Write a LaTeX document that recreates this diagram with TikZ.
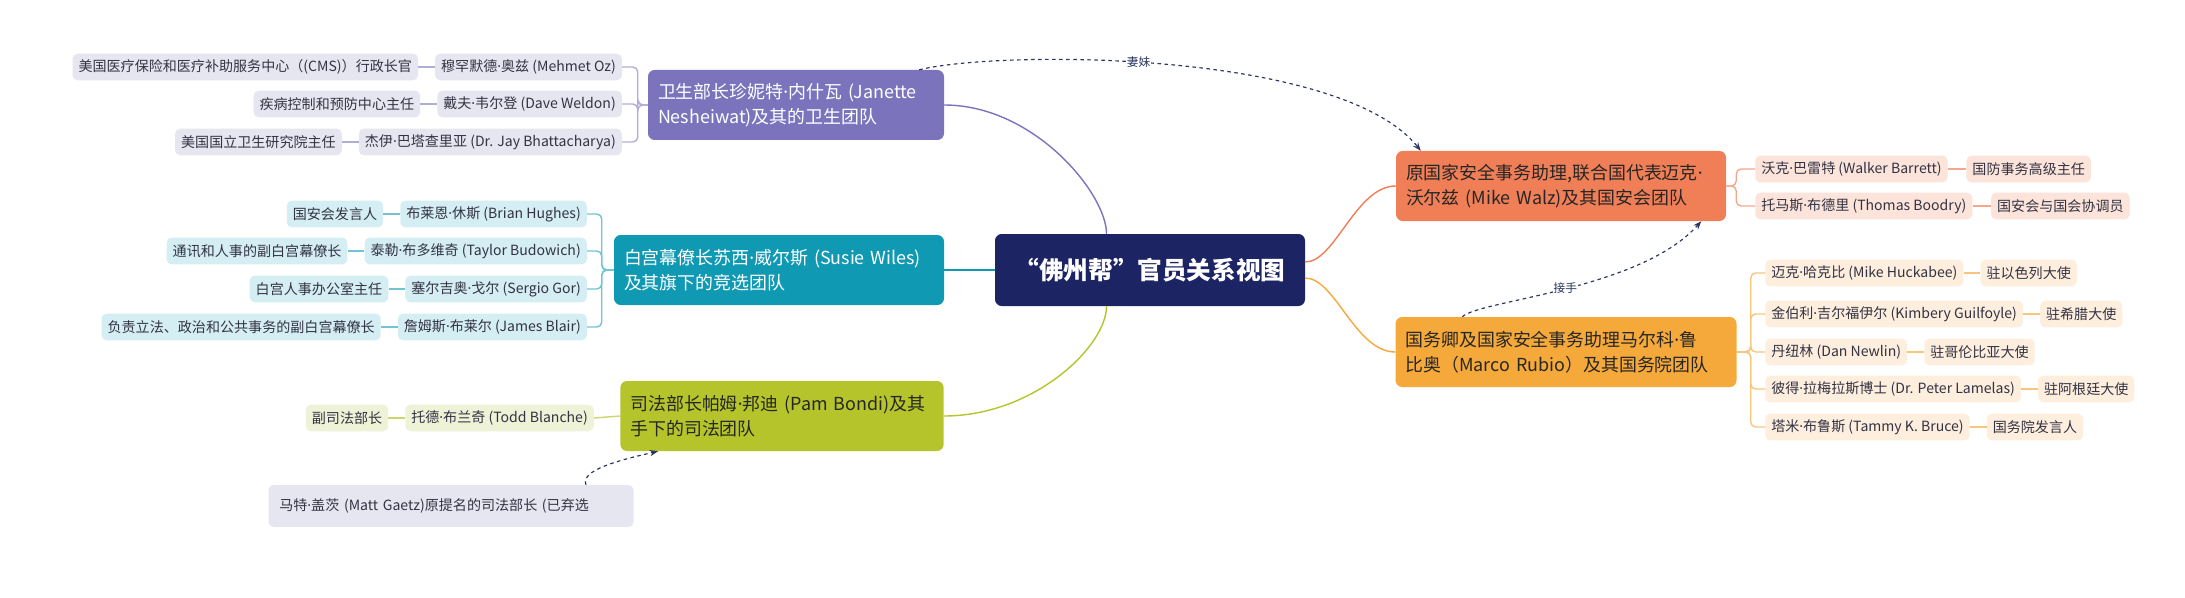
\documentclass[tikz,border=0pt]{standalone}
\usepackage{fontspec}
\setmainfont{Noto Sans CJK SC}
\newfontfamily\latinfont{Noto Sans}
\newcommand\md{{\latinfont ·}}
\usepackage{tikz}
\usetikzlibrary{arrows.meta,positioning,calc}
\definecolor{rootblue}{HTML}{1C2463}
\definecolor{healthpurple}{HTML}{7B74BD}
\definecolor{healthleaf}{HTML}{E6E6F0}
\definecolor{whteal}{HTML}{1099B3}
\definecolor{whleaf}{HTML}{D4EEF3}
\definecolor{justlime}{HTML}{B5C42A}
\definecolor{justleaf}{HTML}{EEF2D6}
\definecolor{nsared}{HTML}{F07F57}
\definecolor{nsaleaf}{HTML}{FCE4DA}
\definecolor{stateorange}{HTML}{F5A93A}
\definecolor{stateleaf}{HTML}{FDEEDD}
\definecolor{arrowblue}{HTML}{2B3560}
\definecolor{leaftext}{HTML}{333344}

\begin{document}
\begin{tikzpicture}[x=0.3mm,y=-0.3mm,
    mainbox/.style={rounded corners=2mm, text=white, font=\fontsize{15.3}{21}\selectfont,
        align=left, inner sep=3mm, minimum height=21mm, anchor=center},
    leaf/.style={rounded corners=1.5mm, text=leaftext, font=\fontsize{12}{14}\selectfont,
        inner xsep=1.8mm, minimum height=8mm},
    link/.style={line width=1.2pt},
    rel/.style={dashed, line width=1pt, arrowblue, -{Stealth[length=2.5mm]}},
    rellabel/.style={font=\fontsize{10}{12}\selectfont, text=arrowblue, fill=white, inner sep=1pt}]
    \useasboundingbox (0,0) rectangle (2185,598);

    % Root
    \node[fill=rootblue, rounded corners=2mm, text=white, font=\fontsize{21}{26}\selectfont\bfseries,
        minimum width=93mm, minimum height=21.6mm] (root) at (1150,270) {“佛州帮”官员关系视图};

    % Health team
    \node[mainbox, fill=healthpurple, text width=82.8mm] (health) at (796,105)
        {卫生部长珍妮特\md 内什瓦 (Janette\\Nesheiwat)及其的卫生团队};
    \node[leaf, fill=healthleaf, anchor=east] (oz) at (622,67) {穆罕默德\md 奥兹 (Mehmet Oz)};
    \node[leaf, fill=healthleaf, left=5mm of oz] (cms) {美国医疗保险和医疗补助服务中心（(CMS)）行政长官};
    \node[leaf, fill=healthleaf, anchor=east] (weldon) at (622,104) {戴夫\md 韦尔登 (Dave Weldon)};
    \node[leaf, fill=healthleaf, left=5mm of weldon] (cdc) {疾病控制和预防中心主任};
    \node[leaf, fill=healthleaf, anchor=east] (jay) at (622,142) {杰伊\md 巴塔查里亚 (Dr. Jay Bhattacharya)};
    \node[leaf, fill=healthleaf, left=5mm of jay] (nih) {美国国立卫生研究院主任};

    % White House team
    \node[mainbox, fill=whteal, text width=93mm] (wh) at (779,270)
        {白宫幕僚长苏西\md 威尔斯 (Susie Wiles)\\及其旗下的竞选团队};
    \node[leaf, fill=whleaf, anchor=east] (hughes) at (587,214) {布莱恩\md 休斯 (Brian Hughes)};
    \node[leaf, fill=whleaf, left=5mm of hughes] (nscspk) {国安会发言人};
    \node[leaf, fill=whleaf, anchor=east] (budowich) at (587,251) {泰勒\md 布多维奇 (Taylor Budowich)};
    \node[leaf, fill=whleaf, left=5mm of budowich] (comms) {通讯和人事的副白宫幕僚长};
    \node[leaf, fill=whleaf, anchor=east] (gor) at (587,289) {塞尔吉奥\md 戈尔 (Sergio Gor)};
    \node[leaf, fill=whleaf, left=5mm of gor] (ppo) {白宫人事办公室主任};
    \node[leaf, fill=whleaf, anchor=east] (blair) at (587,327) {詹姆斯\md 布莱尔 (James Blair)};
    \node[leaf, fill=whleaf, left=5mm of blair] (leg) {负责立法、政治和公共事务的副白宫幕僚长};

    % Justice team
    \node[mainbox, fill=justlime, text=black!85, text width=91mm] (justice) at (782,416)
        {司法部长帕姆\md 邦迪 (Pam Bondi)及其\\手下的司法团队};
    \node[leaf, fill=justleaf, anchor=east] (blanche) at (594,418) {托德\md 布兰奇 (Todd Blanche)};
    \node[leaf, fill=justleaf, left=5mm of blanche] (deputy) {副司法部长};
    \node[leaf, fill=healthleaf, minimum width=109.5mm, minimum height=12.6mm, text width=103mm,
        align=left] (gaetz) at (451,506) {马特\md 盖茨 (Matt Gaetz)原提名的司法部长 (已弃选};

    % NSA team
    \node[mainbox, fill=nsared, text=black!85, text width=93mm] (nsa) at (1561,186)
        {原国家安全事务助理,联合国代表迈克\md\\沃尔兹 (Mike Walz)及其国安会团队};
    \node[leaf, fill=nsaleaf, anchor=west] (barrett) at (1755,169) {沃克\md 巴雷特 (Walker Barrett)};
    \node[leaf, fill=nsaleaf, right=5.5mm of barrett] (defense) {国防事务高级主任};
    \node[leaf, fill=nsaleaf, anchor=west] (boodry) at (1755,206) {托马斯\md 布德里 (Thomas Boodry)};
    \node[leaf, fill=nsaleaf, right=5.5mm of boodry] (liaison) {国安会与国会协调员};

    % State team
    \node[mainbox, fill=stateorange, text=black!85, text width=96.3mm] (state) at (1566,352)
        {国务卿及国家安全事务助理马尔科\md 鲁\\比奥（Marco Rubio）及其国务院团队};
    \node[leaf, fill=stateleaf, anchor=west] (huckabee) at (1765,273) {迈克\md 哈克比 (Mike Huckabee)};
    \node[leaf, fill=stateleaf, right=5mm of huckabee] (israel) {驻以色列大使};
    \node[leaf, fill=stateleaf, anchor=west] (guilfoyle) at (1765,314) {金伯利\md 吉尔福伊尔 (Kimbery Guilfoyle)};
    \node[leaf, fill=stateleaf, right=5mm of guilfoyle] (greece) {驻希腊大使};
    \node[leaf, fill=stateleaf, anchor=west] (newlin) at (1765,352) {丹纽林 (Dan Newlin)};
    \node[leaf, fill=stateleaf, right=5mm of newlin] (colombia) {驻哥伦比亚大使};
    \node[leaf, fill=stateleaf, anchor=west] (lamelas) at (1765,389) {彼得\md 拉梅拉斯博士 (Dr. Peter Lamelas)};
    \node[leaf, fill=stateleaf, right=5mm of lamelas] (argentina) {驻阿根廷大使};
    \node[leaf, fill=stateleaf, anchor=west] (bruce) at (1765,427) {塔米\md 布鲁斯 (Tammy K. Bruce)};
    \node[leaf, fill=stateleaf, right=5mm of bruce] (spokes) {国务院发言人};

    % Root links
    \draw[link, healthpurple] (health.east) .. controls +(90,0) and +(0,-40) .. ($(root.north west)!0.36!(root.north east)$);
    \draw[link, whteal] (wh.east) -- (root.west);
    \draw[link, justlime] (justice.east) .. controls +(90,0) and +(0,40) .. ($(root.south west)!0.36!(root.south east)$);
    \draw[link, nsared] ($(root.east)+(0,-8)$) .. controls +(30,0) and +(-40,0) .. (nsa.west);
    \draw[link, stateorange] ($(root.east)+(0,8)$) .. controls +(30,0) and +(-40,0) .. (state.west);

    % Branch brackets
    \foreach \a/\b in {oz/cms, weldon/cdc, jay/nih}{
        \draw[link, healthleaf!50!healthpurple, rounded corners=1.5mm] (health.west) -- ++(-10,0) |- (\a.east);
        \draw[link, healthleaf!50!healthpurple] (\a.west) -- (\b.east);
    }
    \foreach \a/\b in {hughes/nscspk, budowich/comms, gor/ppo, blair/leg}{
        \draw[link, whleaf!50!whteal, rounded corners=1.5mm] (wh.west) -- ++(-12,0) |- (\a.east);
        \draw[link, whleaf!50!whteal] (\a.west) -- (\b.east);
    }
    \draw[link, justleaf!40!justlime] (justice.west) -- (blanche.east);
    \draw[link, justleaf!40!justlime] (blanche.west) -- (deputy.east);
    \foreach \a/\b in {barrett/defense, boodry/liaison}{
        \draw[link, nsaleaf!40!nsared, rounded corners=1.5mm] (nsa.east) -- ++(10,0) |- (\a.west);
        \draw[link, nsaleaf!40!nsared] (\a.east) -- (\b.west);
    }
    \foreach \a/\b in {huckabee/israel, guilfoyle/greece, newlin/colombia, lamelas/argentina, bruce/spokes}{
        \draw[link, stateleaf!40!stateorange, rounded corners=1.5mm] (state.east) -- ++(14,0) |- (\a.west);
        \draw[link, stateleaf!40!stateorange] (\a.east) -- (\b.west);
    }

    % Relations
    \draw[rel] ($(health.north east)+(-25,0)$) .. controls (1000,50) and (1340,50) .. node[rellabel, pos=0.45] {妻妹} ($(nsa.north west)+(25,0)$);
    \draw[rel] ($(state.north west)+(67,0)$) .. controls (1480,300) and (1640,290) .. node[rellabel, pos=0.5] {接手} ($(nsa.south east)+(-25,0)$);
    \draw[rel] ($(gaetz.north)+(135,0)$) .. controls (580,470) and (620,460) .. ($(justice.south west)+(38,0)$);
\end{tikzpicture}
\end{document}
